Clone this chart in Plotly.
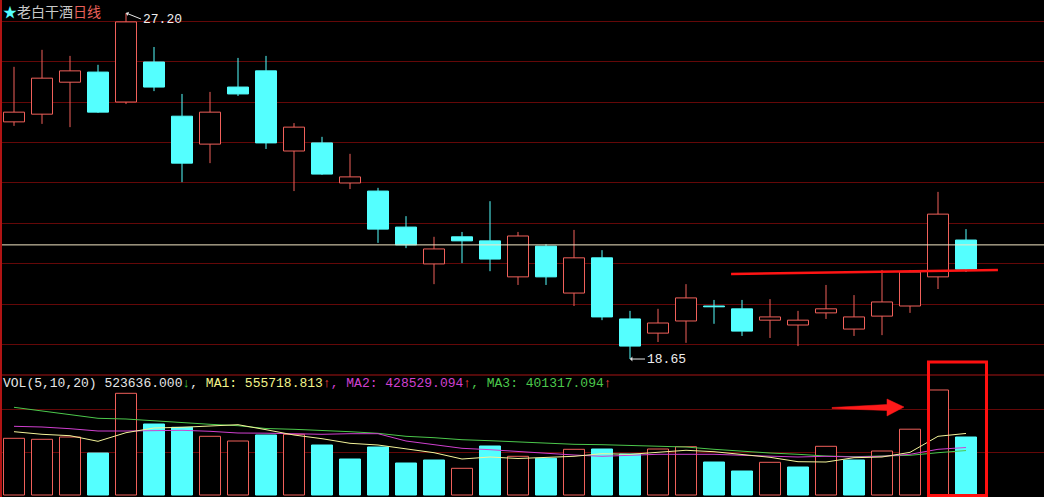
import plotly.graph_objects as go

# ---------------- data ----------------
days = list(range(1, 36))
opens = [24.51, 24.70, 25.49, 25.74, 25.00, 25.99, 24.65, 23.96, 25.37, 25.77,
         23.79, 23.99, 23.00, 22.80, 21.91, 21.00, 21.67, 21.57, 20.68, 21.44,
         20.28, 21.15, 19.64, 19.29, 19.59, 19.96, 19.89, 19.61, 19.49, 19.79,
         19.39, 19.71, 19.96, 20.68, 21.59]
highs = [25.87, 26.29, 26.14, 25.92, 27.20, 26.36, 25.20, 25.25, 26.09, 26.14,
         24.48, 24.14, 23.72, 22.88, 22.18, 21.67, 21.79, 22.55, 21.79, 21.49,
         21.84, 21.34, 19.84, 19.89, 20.50, 20.11, 20.11, 20.13, 19.84, 20.48,
         20.23, 20.85, 20.85, 22.78, 21.86]
lows = [24.41, 24.46, 24.38, 24.73, 24.95, 25.27, 23.02, 23.49, 25.15, 23.84,
        22.80, 23.20, 22.85, 21.52, 21.39, 20.50, 21.02, 20.82, 20.48, 20.48,
        19.96, 19.61, 18.65, 19.07, 19.05, 19.52, 19.22, 19.17, 18.97, 19.64,
        19.22, 19.24, 19.79, 20.38, 20.80]
closes = [24.75, 25.59, 25.77, 24.75, 26.98, 25.37, 23.49, 24.75, 25.20, 23.99,
          24.38, 23.22, 23.15, 21.86, 21.47, 21.37, 21.57, 21.12, 21.69, 20.68,
          21.15, 19.69, 18.97, 19.54, 20.16, 19.94, 19.34, 19.69, 19.61, 19.89,
          19.69, 20.06, 20.80, 22.23, 20.87]
volumes = [511900, 502900, 523600, 379200, 918100, 641000, 611200, 529900, 487500, 541700,
           548000, 451400, 325000, 433300, 288900, 316000, 241000, 442400, 349400, 331300,
           412600, 415300, 370100, 415300, 436100, 297900, 216700, 295200, 252800, 439700,
           316000, 397200, 594000, 948000, 523636]
ma1 = [571500, 548000, 535400, 484800, 562400, 604900, 611200, 620200, 634700, 589500,
       541700, 508300, 466700, 451400, 415300, 381900, 325000, 343100, 329500, 336700,
       349400, 372900, 367400, 385500, 403600, 390900, 367400, 340400, 300600, 297900,
       336700, 343100, 385000, 529900, 555719]
ma2 = [620200, 613900, 598600, 577800, 577800, 584100, 584100, 575100, 559700, 557900,
       553400, 548000, 553400, 553400, 487500, 451400, 421600, 409000, 390900, 379200,
       361100, 349400, 361100, 367400, 367400, 367400, 358400, 349400, 343100, 349400,
       343100, 349400, 367400, 412600, 428529]
ma3 = [791800, 758400, 728600, 692400, 686100, 668100, 652700, 638300, 625600, 600400,
       593100, 584100, 571500, 557000, 529900, 517300, 499200, 490200, 478500, 466700,
       457700, 454100, 448700, 445100, 433300, 412600, 394500, 379200, 367400, 352100,
       345800, 349400, 358400, 381900, 401317]
price_grid = [19, 20, 21, 22, 23, 24, 25, 26, 27]
vol_grid = [388200, 776400]
ref_price = 21.47
trend_x = [26.61, 36.14]
trend_y = [20.75, 20.85]
title_name = "老白干酒"
title_period = "日线"
vol_legend = ("VOL(5,10,20)", "523636.000", "MA1: 555718.813", "MA2: 428529.094", "MA3: 401317.094")

# ---------------- styling ----------------
W, H = 1044, 497
UP = "#f0605a"
DOWN = "#54ffff"
BG = "#000000"
GRID = "#640808"
MONO = "Liberation Mono, DejaVu Sans Mono, monospace"

def px(x):
    return x / W

def py(y):
    return 1 - y / H

fig = go.Figure()

# wicks (split above / below body so hollow bodies stay empty)
for color, is_up in ((UP, True), (DOWN, False)):
    wx, wy = [], []
    for d, o, h, l, c in zip(days, opens, highs, lows, closes):
        if (c >= o) != is_up:
            continue
        top, bot = max(o, c), min(o, c)
        wx += [d, d, None, d, d, None]
        wy += [h, top, None, bot, l, None]
    fig.add_trace(go.Scatter(x=wx, y=wy, mode="lines", line=dict(color=color, width=1),
                             hoverinfo="skip", showlegend=False, xaxis="x", yaxis="y"))

# candle bodies
body_base = [min(o, c) for o, c in zip(opens, closes)]
body_h = [max(abs(c - o), 0.015) for o, c in zip(opens, closes)]
body_fill = [BG if c >= o else DOWN for o, c in zip(opens, closes)]
body_line = [UP if c >= o else DOWN for o, c in zip(opens, closes)]
fig.add_trace(go.Bar(x=days, y=body_h, base=body_base, width=0.75,
                     marker=dict(color=body_fill, line=dict(color=body_line, width=1)),
                     showlegend=False, xaxis="x", yaxis="y"))

# volume bars (colour by close vs previous close)
vol_up = [closes[0] >= opens[0]] + [closes[i] >= closes[i - 1] for i in range(1, len(closes))]
fig.add_trace(go.Bar(x=days, y=volumes, width=0.75,
                     marker=dict(color=[BG if u else DOWN for u in vol_up],
                                 line=dict(color=[UP if u else DOWN for u in vol_up], width=1)),
                     showlegend=False, xaxis="x", yaxis="y2"))

for series, col in ((ma3, "#4cc84c"), (ma2, "#d040d0"), (ma1, "#f4f49a")):
    fig.add_trace(go.Scatter(x=days, y=series, mode="lines", line=dict(color=col, width=1),
                             showlegend=False, hoverinfo="skip", xaxis="x", yaxis="y2"))

shapes = [
    # reference price line
    dict(type="line", xref="paper", yref="y", x0=0, x1=1, y0=ref_price, y1=ref_price,
         line=dict(color="#f2e6c4", width=1)),
    # red trend line
    dict(type="line", xref="x", yref="y", x0=trend_x[0], x1=trend_x[1], y0=trend_y[0], y1=trend_y[1],
         line=dict(color="#ff1414", width=2.5)),
    # panel separator
    dict(type="line", xref="paper", yref="paper", x0=0, x1=1, y0=py(375), y1=py(375),
         line=dict(color="#a81414", width=1.2)),
    # left border
    dict(type="line", xref="paper", yref="paper", x0=px(1), x1=px(1), y0=0, y1=1,
         line=dict(color="#b01414", width=2)),
    # highlight box
    dict(type="rect", xref="paper", yref="paper", x0=px(928.5), x1=px(986.5), y0=py(495.5), y1=py(362),
         line=dict(color="#ff1010", width=3)),
    # red arrow
    dict(type="path", xref="paper", yref="paper",
         path=("M {} {} L {} {} L {} {} L {} {} L {} {} L {} {} L {} {} Z").format(
             px(832), py(407.5), px(887), py(404.5), px(887), py(399), px(904), py(407),
             px(887), py(416), px(887), py(410.5), px(832), py(408.5)),
         fillcolor="#ff1a1a", line=dict(color="#ff1a1a", width=0.5)),
]

annotations = [
    dict(xref="paper", yref="paper", x=px(2), y=1, xanchor="left", yanchor="top", borderpad=0,
         showarrow=False, font=dict(family="Noto Sans CJK SC", size=14, color="#c8c8c8"),
         text="<span style='color:#54ffff'>★</span>" + title_name
              + "<span style='color:#e8605a'>" + title_period + "</span>"),
    dict(xref="x", yref="y", x=5, y=max(highs), text=f"{max(highs):.2f}", showarrow=True,
         ax=15, ay=6, xanchor="left", yanchor="middle", arrowhead=1, arrowsize=0.8,
         arrowwidth=1, arrowcolor="#e8e8e8", standoff=0,
         font=dict(family=MONO, size=13, color="#eeeeee")),
    dict(xref="x", yref="y", x=23, y=min(lows), text=f"{min(lows):.2f}", showarrow=True,
         ax=15, ay=0, xanchor="left", yanchor="middle", arrowhead=1, arrowsize=0.8,
         arrowwidth=1, arrowcolor="#e8e8e8", standoff=0,
         font=dict(family=MONO, size=13, color="#eeeeee")),
    dict(xref="paper", yref="paper", x=px(1), y=py(383.5), xanchor="left", yanchor="middle",
         showarrow=False, font=dict(family=MONO, size=13, color="#e6e6e6"),
         text=(vol_legend[0] + " " + vol_legend[1]
               + "<span style='color:#40d040'>↓</span>, "
               + "<span style='color:#f4f48a'>" + vol_legend[2] + "</span>"
               + "<span style='color:#ff4040'>↑</span>"
               + "<span style='color:#d040d0'>, " + vol_legend[3] + "</span>"
               + "<span style='color:#ff4040'>↑</span>"
               + "<span style='color:#4cc84c'>, " + vol_legend[4] + "</span>"
               + "<span style='color:#ff4040'>↑</span>")),
]

# axis ranges derived from pixel layout
ppu = 40.47          # px per price unit
vpp = 9028           # volume per px
y_top = max(highs) + 13 / ppu
y_bot = max(highs) - 361 / ppu

fig.update_layout(
    width=W, height=H, margin=dict(l=0, r=0, t=0, b=0),
    paper_bgcolor=BG, plot_bgcolor=BG, barmode="overlay", showlegend=False,
    xaxis=dict(range=[0.5, 0.5 + W / 28], showgrid=False, zeroline=False, showticklabels=False,
               showline=False, ticks="", anchor="y2", fixedrange=True),
    yaxis=dict(domain=[py(374), 1], range=[y_bot, y_top], tickvals=price_grid, showgrid=True,
               gridcolor=GRID, gridwidth=1, zeroline=False, showticklabels=False, showline=False,
               ticks="", anchor="x", fixedrange=True),
    yaxis2=dict(domain=[0, py(375)], range=[-2 * vpp, 120 * vpp], tickvals=vol_grid, showgrid=True,
                gridcolor=GRID, gridwidth=1, zeroline=False, showticklabels=False, showline=False,
                ticks="", anchor="x", fixedrange=True),
    shapes=shapes, annotations=annotations,
)

fig.write_html("out.html", config={"displayModeBar": False},
               post_script="document.body.style.margin='0';document.body.style.padding='0';"
                           "document.body.style.overflow='hidden';document.body.style.background='#000';")
